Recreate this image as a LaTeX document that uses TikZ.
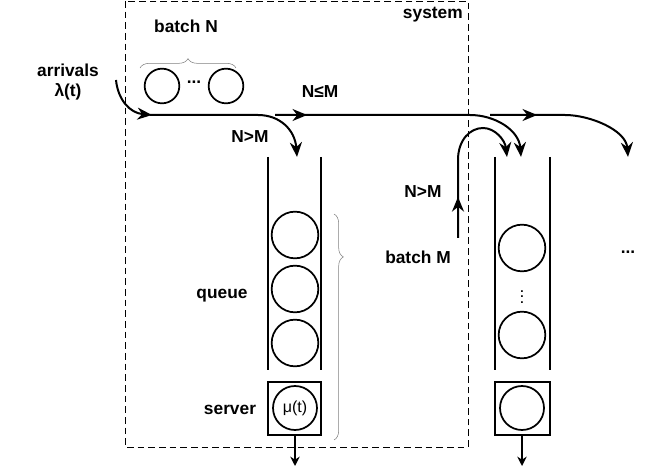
\documentclass[tikz,border=0pt]{standalone}
\usepackage{fontspec}
\setmainfont{Liberation Sans}
\usetikzlibrary{arrows.meta,decorations.pathreplacing,decorations.markings}
\begin{document}
\begin{tikzpicture}[x=0.75pt,y=0.75pt,yscale=-1,xscale=1,
  lbl/.style={font=\bfseries\fontsize{13}{15}\selectfont,inner sep=0.75pt},
  ball/.style={draw,line width=1.3pt,circle,minimum size=35pt,inner sep=0pt},
  wall/.style={line width=1.5pt},
  flow/.style={line width=1.5pt,-{Stealth[length=11pt,width=9pt]}},
  midarrow/.style={postaction={decorate},decoration={markings,mark=at position #1 with {\arrow{Stealth[length=11pt,width=9pt]}}}},
  gbrace/.style={draw=gray,decorate,decoration={brace,amplitude=7pt,#1}}]
\useasboundingbox (0,0) rectangle (664,470);

%system boundary
\draw [dash pattern={on 5pt off 3pt}] (125,1) rectangle (468,447);
\node [lbl,anchor=north east] (sys) at (464,6) {system};

%incoming batch
\node [lbl] (batchN) at (186,26) {batch N};
\draw [gbrace={aspect=0.5}] (140,68) -- (236,68);
\node [ball,minimum size=26pt] (n1) at (162,86) {};
\node [ball,minimum size=26pt] (n2) at (226,86) {};
\node [lbl] (ndots) at (194,82) {...};
\node [lbl,align=center] (arr) at (68,82) {arrivals\\λ(t)};

%arrival and routing flows
\draw [flow] (116,80) .. controls (118,100) and (130,113) .. (152,115);
\draw [flow] (150,115) -- (258,115) .. controls (280,115) and (295,130) .. (297,157);
\node [lbl] (gt1) at (250,137) {N>M};
\draw [flow,midarrow=0.12] (275,115) -- (470,115) .. controls (495,115) and (519,130) .. (521,157);
\node [lbl] (le1) at (320,92) {N≤M};
\draw [flow,midarrow=0.3] (490,115) -- (565,115) .. controls (590,115) and (626,130) .. (628,157);

%batch M
\node [lbl] (batchM) at (418,257) {batch M};
\node [lbl] (gt2) at (423,192) {N>M};
\draw [flow,midarrow=0.25] (458,238) -- (458,160) .. controls (458,140) and (470,128) .. (483,128) .. controls (495,128) and (505,140) .. (507,157);

%queue 1
\draw [wall] (268,157) -- (268,370);
\draw [wall] (321,157) -- (321,370);
\foreach \y [count=\i] in {235,289,343}
  \node [ball] (q\i) at (295,\y) {};
\node [lbl] (queue) at (222,296) {queue};
\draw [wall] (268,382) rectangle (321,435);
\node [ball,minimum size=33pt,font=\fontsize{12}{14}\selectfont] (s1) at (295,408) {μ(t)};
\node [lbl] (server) at (230,410) {server};
\draw [gbrace={aspect=0.19}] (334,214) -- (334,440);

%queue 2
\draw [wall] (495,157) -- (495,370);
\draw [wall] (550,157) -- (550,370);
\node [ball] (r1) at (522,248) {};
\node [ball] (r2) at (522,335) {};
\node [font=\bfseries\small,inner sep=0pt] (vd) at (522,293) {$\vdots$};
\draw [wall] (495,382) rectangle (550,435);
\node [ball,minimum size=33pt] (s2) at (522,408) {};
\node [lbl] (more) at (628,252) {...};

%departures
\coordinate (d1) at (295,466);
\coordinate (d2) at (522,466);
\draw [line width=1.3pt,-{Stealth[length=7pt,width=7pt]}] (295,435) -- (d1);
\draw [line width=1.3pt,-{Stealth[length=7pt,width=7pt]}] (522,435) -- (d2);
\end{tikzpicture}
\end{document}
